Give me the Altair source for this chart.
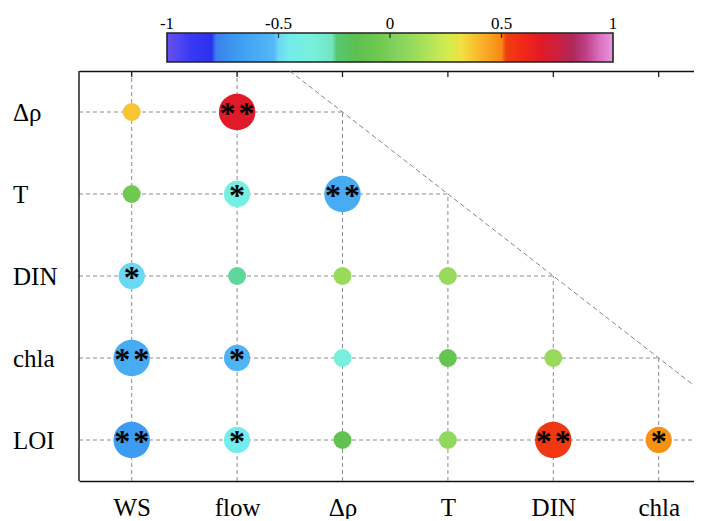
import altair as alt
import pandas as pd
import json

# ---- data -------------------------------------------------------------
cols = ["WS", "flow", "Δρ", "T", "DIN", "chla"]
rows = ["Δρ", "T", "DIN", "chla", "LOI"]

r_drho = [0.37, 0.68]
r_T = [-0.05, -0.38, -0.60]
r_DIN = [-0.50, -0.25, 0.10, 0.10]
r_chla = [-0.60, -0.55, -0.35, -0.10, 0.10]
r_LOI = [-0.68, -0.45, -0.12, 0.08, 0.55, 0.48]

s_drho = ["ns", "**"]
s_T = ["ns", "*", "**"]
s_DIN = ["*", "ns", "ns", "ns"]
s_chla = ["**", "*", "ns", "ns", "ns"]
s_LOI = ["**", "*", "ns", "ns", "**", "*"]

cbar_ticks = [-1, -0.5, 0, 0.5, 1]
cbar_labels = ["-1", "-0.5", "0", "0.5", "1"]

# colormap stops (value, colour)
cmap_values = [-1.00, -0.95, -0.90, -0.80, -0.78, -0.70, -0.60, -0.52, -0.50, -0.45,
               -0.35, -0.26, -0.24, -0.15, -0.05, 0.05, 0.15, 0.25, 0.32, 0.38,
               0.45, 0.50, 0.52, 0.60, 0.68, 0.75, 0.82, 0.88, 0.94, 1.00]
cmap_colors = ["#6650f0", "#5048f2", "#3a3af5", "#2c30f0", "#3a80ee", "#3c98f0", "#48acf5",
               "#54b8f8", "#6ad8f4", "#72ecec", "#78f0dc", "#74e4c4", "#58c870", "#5cc050",
               "#70c850", "#88d460", "#a8e058", "#d0ec50", "#f0e040", "#f8c030", "#f8a020",
               "#f88810", "#f04010", "#f02818", "#e01a28", "#cc2040", "#b02858", "#c04088",
               "#d870c0", "#e898dc"]

# ---- tables -----------------------------------------------------------
r_lists = [r_drho, r_T, r_DIN, r_chla, r_LOI]
s_lists = [s_drho, s_T, s_DIN, s_chla, s_LOI]
sig_code = {"ns": 0, "*": 1, "**": 2}

recs = []
for i, (rv, rl, sl) in enumerate(zip(rows, r_lists, s_lists)):
    yi = len(rows) - i
    for j, (r, s) in enumerate(zip(rl, sl)):
        recs.append(dict(row=rv, col=cols[j], xi=j + 1, yi=yi, r=r, sig=s, nstar=sig_code[s]))
cells = pd.DataFrame(recs)

row_pos = {v: len(rows) - i for i, v in enumerate(rows)}
col_pos = {v: j + 1 for j, v in enumerate(cols)}
x_lo, x_hi = 0.5, len(cols) + 0.5
y_lo, y_hi = 0.5, len(rows) + 0.5

hgrid = pd.DataFrame([dict(yi=row_pos[v], x0=x_lo, x1=col_pos.get(v, x_hi)) for v in rows])
vgrid = pd.DataFrame([dict(xi=col_pos[c], y0=y_lo, y1=row_pos.get(c, y_hi)) for c in cols])
ylab = pd.DataFrame([dict(yi=row_pos[v], name=v) for v in rows])
frame = pd.DataFrame([dict(x=x_lo, ya=y_lo, yb=y_hi)])

# diagonal through the positions of variables that are both rows and columns
shared = [v for v in cols if v in rows]
k = col_pos[shared[0]] + row_pos[shared[0]]
diag = pd.DataFrame([dict(xa=k - y_hi, ya=y_hi, xb=x_hi, yb=k - x_hi)])

ticks_df = pd.DataFrame(dict(v=cbar_ticks, lab=cbar_labels))
bar_df = pd.DataFrame([dict(lo=min(cbar_ticks), hi=max(cbar_ticks))])
inner_ticks = ticks_df[(ticks_df.v > min(cbar_ticks)) & (ticks_df.v < max(cbar_ticks))]

# ---- scales / axes ----------------------------------------------------
W, H = 615, 410
xs = alt.Scale(domain=[0.5, 6.335], nice=False, zero=False)
ys = alt.Scale(domain=[y_lo, y_hi], nice=False, zero=False)
cs = alt.Scale(domain=[-1.3946, 1.3632], nice=False, zero=False)
color_scale = alt.Scale(domain=cmap_values, range=cmap_colors, clamp=True)

serif = "Liberation Serif"
x_names = json.dumps(cols, ensure_ascii=False)

x_bottom = alt.Axis(values=list(range(1, len(cols) + 1)), labelExpr=f"{x_names}[datum.value-1]",
                    grid=False, ticks=False, tickSize=0, domainColor="#111", domainWidth=1.4,
                    labelFont=serif, labelFontSize=25, labelColor="black", labelPadding=14,
                    labelFlush=False, labelOverlap=False, title=None, orient="bottom")
x_top = alt.Axis(values=list(range(1, len(cols) + 1)), labels=False, grid=False, ticks=False,
                 domainColor="#111", domainWidth=1.4, title=None, orient="top")

grid_style = dict(color="#8c8c8c", strokeDash=[4, 3], strokeWidth=1, clip=True)

h_layer = alt.Chart(hgrid).mark_rule(**grid_style).encode(
    x=alt.X("x0:Q", scale=xs, axis=x_bottom), x2="x1:Q",
    y=alt.Y("yi:Q", scale=ys, axis=None))
v_layer = alt.Chart(vgrid).mark_rule(**grid_style).encode(
    x=alt.X("xi:Q", scale=xs, axis=x_top),
    y=alt.Y("y0:Q", scale=ys, axis=None), y2="y1:Q")
left_line = alt.Chart(frame).mark_rule(color="#111", strokeWidth=1.4).encode(
    x=alt.X("x:Q", scale=xs, axis=None),
    y=alt.Y("ya:Q", scale=ys, axis=None), y2="yb:Q")
y_labels = alt.Chart(ylab).mark_text(font=serif, fontSize=25, align="left", baseline="middle",
                                     color="black", dy=1).encode(
    x=alt.value(-66), y=alt.Y("yi:Q", scale=ys, axis=None), text="name:N")
top_ticks = alt.Chart(vgrid).mark_rule(color="#111", strokeWidth=1.2, y2Offset=6).encode(
    x=alt.X("xi:Q", scale=xs, axis=None),
    y=alt.Y("top:Q", scale=ys, axis=None), y2="top:Q").transform_calculate(top=str(y_hi))
d_layer = alt.Chart(diag).mark_rule(color="#777", strokeDash=[5, 3], strokeWidth=0.9, clip=True).encode(
    x=alt.X("xa:Q", scale=xs, axis=None), x2="xb:Q",
    y=alt.Y("ya:Q", scale=ys, axis=None), y2="yb:Q")
circles = alt.Chart(cells).mark_circle(opacity=1).encode(
    x=alt.X("xi:Q", scale=xs, axis=None),
    y=alt.Y("yi:Q", scale=ys, axis=None),
    color=alt.Color("r:Q", scale=color_scale, legend=None),
    size=alt.Size("nstar:Q", scale=alt.Scale(type="linear", domain=[0, 1, 2],
                                             range=[324, 692, 1332]), legend=None))

star_kw = dict(font=serif, fontSize=32, fontWeight="bold", baseline="alphabetic", color="black")
star_base = alt.Chart(cells).encode(x=alt.X("xi:Q", scale=xs, axis=None),
                                    y=alt.Y("yi:Q", scale=ys, axis=None))
star1 = star_base.transform_filter("datum.nstar == 1").mark_text(dy=12, dx=0, **star_kw).encode(
    text=alt.value("*"))
star2a = star_base.transform_filter("datum.nstar == 2").mark_text(dy=12, dx=-9.5, **star_kw).encode(
    text=alt.value("*"))
star2b = star_base.transform_filter("datum.nstar == 2").mark_text(dy=12, dx=9.5, **star_kw).encode(
    text=alt.value("*"))

main = alt.layer(h_layer, v_layer, d_layer, top_ticks, left_line, y_labels,
                 circles, star1, star2a, star2b)

# ---- colour bar ------------------------------------------------------
grad = alt.Gradient(gradient="linear", x1=0, x2=1, y1=0, y2=0,
                    stops=[alt.GradientStop(offset=(v + 1) / 2, color=c)
                           for v, c in zip(cmap_values, cmap_colors)])
bar = alt.Chart(bar_df).mark_rect(fill=grad, stroke="#222", strokeWidth=1.6).encode(
    x=alt.X("lo:Q", scale=cs, axis=None), x2="hi:Q",
    y=alt.value(-38), y2=alt.value(-9))
bar_ticks = alt.Chart(inner_ticks).mark_rule(color="#222", strokeWidth=1.2).encode(
    x=alt.X("v:Q", scale=cs, axis=None), y=alt.value(-38), y2=alt.value(-33))
bar_labels = alt.Chart(ticks_df).mark_text(font=serif, fontSize=17, baseline="alphabetic",
                                           color="black").encode(
    x=alt.X("v:Q", scale=cs, axis=None), y=alt.value(-42), text="lab:N")
cbar = alt.layer(bar, bar_ticks, bar_labels)

chart = alt.layer(main, cbar).resolve_scale(x="independent", y="independent").properties(
    width=W, height=H,
    padding={"left": 71, "top": 63, "right": 0, "bottom": 38},
    autosize=alt.AutoSizeParams(type="none"),
    background="white",
).configure_view(stroke=None)

chart.save("out.html", embed_options={"renderer": "svg", "actions": False})
